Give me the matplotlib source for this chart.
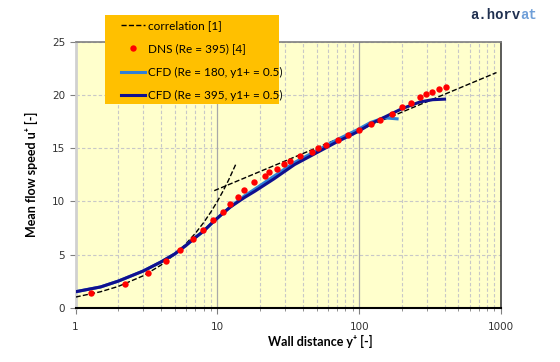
import matplotlib
matplotlib.use('Agg')
import matplotlib.pyplot as plt
from matplotlib.patches import Rectangle
from matplotlib.ticker import LogLocator, NullFormatter, FixedLocator

# correlation [1]: viscous sublayer and log law
yp_visc = [1, 1.5, 2, 3, 4, 5, 6, 7, 8, 9, 10, 11, 12, 13.5]
up_visc = [1, 1.5, 2, 3, 4, 5, 6, 7, 8, 9, 10, 11, 12, 13.5]
yp_log = [9.5, 930]
up_log = [11.0, 22.1]

# DNS (Re = 395) [4]
yp_dns = [1.28, 2.23, 3.25, 4.36, 5.44, 6.75, 7.94, 9.34, 11.0, 12.3, 13.9, 15.5,
          18.2, 21.6, 23.3, 26.3, 29.3, 32.6, 38.0, 46.4, 51.4, 58.2, 70.4, 83.2,
          99.0, 121.6, 140.7, 170, 199, 231.6, 269, 297, 327, 363, 411]
up_dns = [1.35, 2.23, 3.29, 4.39, 5.42, 6.43, 7.27, 8.21, 8.99, 9.75, 10.38, 11.06,
          11.81, 12.38, 12.75, 13.03, 13.48, 13.82, 14.26, 14.63, 15.04, 15.32, 15.79, 16.23,
          16.70, 17.26, 17.67, 18.2, 18.86, 19.24, 19.77, 20.08, 20.24, 20.58, 20.77]

# CFD (Re = 180, y1+ = 0.5)
yp_180 = [1, 1.5, 2, 3, 4, 5, 6, 7, 8, 9.3, 11, 12.3, 15.5, 18.4, 25, 35, 55, 70, 98, 120, 150, 185]
up_180 = [1.5, 1.95, 2.5, 3.45, 4.3, 5.05, 5.85, 6.6, 7.2, 8.05, 8.9, 9.45, 10.5, 11.15,
          12.35, 13.65, 15.05, 15.8, 16.75, 17.4, 17.85, 17.75]

# CFD (Re = 395, y1+ = 0.5)
yp_395 = [1, 1.5, 2, 3, 4, 5, 6, 7, 8, 9.3, 11, 12.3, 15.5, 18.4, 25, 35, 55, 70, 98, 120,
          140, 200, 270, 330, 400]
up_395 = [1.5, 1.95, 2.5, 3.45, 4.3, 5.05, 5.85, 6.6, 7.2, 8.05, 8.9, 9.45, 10.35, 10.95,
          12.1, 13.45, 14.85, 15.6, 16.55, 17.25, 17.7, 18.7, 19.35, 19.55, 19.6]

navy = '#10108f'
lblue = '#2f7fd8'

fig = plt.figure(figsize=(5.6, 3.62), dpi=100)
ax = fig.add_axes([0.135, 0.15, 0.7596, 0.7348])
ax.set_facecolor('#ffffcc')

ax.plot(yp_visc, up_visc, '--', color='black', lw=1.0, zorder=3, label='correlation [1]')
ax.plot(yp_log, up_log, '--', color='black', lw=1.0, zorder=3)
ax.plot(yp_dns, up_dns, 'o', color='#ff0000', ms=4.6, mec='none', zorder=5,
        label='DNS (Re = 395) [4]')
ax.plot(yp_180, up_180, '-', color=lblue, lw=2.2, zorder=3.5, label='CFD (Re = 180, y1+ = 0.5)')
ax.plot(yp_395, up_395, '-', color=navy, lw=2.2, zorder=4, label='CFD (Re = 395, y1+ = 0.5)')

ax.set_xscale('log')
ax.set_xlim(1, 1000)
ax.set_ylim(0, 25)
ax.set_yticks([0, 5, 10, 15, 20, 25])
ax.xaxis.set_major_locator(FixedLocator([1, 10, 100, 1000]))
ax.set_xticklabels(['1', '10', '100', '1000'])
ax.xaxis.set_minor_locator(LogLocator(base=10, subs=range(2, 10)))
ax.xaxis.set_minor_formatter(NullFormatter())
ax.tick_params(axis='both', labelsize=7.5, colors='#333333', direction='out')
ax.tick_params(axis='both', which='major', length=4, color='#808080')
ax.tick_params(axis='x', which='minor', length=2.5, color='#808080')
ax.tick_params(axis='x', pad=6)

# grid
ax.grid(True, axis='y', which='major', ls=(0, (3, 2)), color='#c8c8c8', lw=0.8, zorder=1)
ax.grid(True, axis='x', which='minor', ls=(0, (3, 2)), color='#c8c8c8', lw=0.8, zorder=1)
for xv in [10, 100]:
    ax.axvline(xv, color='#a8a8a8', lw=0.9, zorder=1)
ax.set_axisbelow(True)

ax.spines['bottom'].set_color('black')
ax.spines['bottom'].set_linewidth(1.5)
ax.spines['top'].set_color('#7f7f7f')
ax.spines['top'].set_linewidth(1.2)
ax.spines['right'].set_color('#404040')
ax.spines['right'].set_linewidth(1.2)
ax.spines['left'].set_color('#d0d0d0')
ax.spines['left'].set_linewidth(2)

lab_font = ['Lato', 'DejaVu Sans']
fig.text(31/560, 0.5175, 'Mean flow speed u⁺ [-]', rotation=90, ha='center', va='center',
         fontsize=9, fontweight='bold', family=lab_font)
fig.text(320/560, 1 - 341/362, 'Wall distance y⁺ [-]', ha='center', va='center',
         fontsize=9, fontweight='bold', family=lab_font)

# a.horvat signature, two colours
t1 = fig.text(470/560, 1 - 15/362, 'a.horv', ha='left', va='center', fontsize=10,
              fontweight='bold', family='Liberation Mono', color='#1f2f4f')
ax.annotate('at', xy=(1, 0.5), xycoords=t1, ha='left', va='center', fontsize=10,
            fontweight='bold', family='Liberation Mono', color='#6f9fd8',
            annotation_clip=False)

# legend box
box = Rectangle((105/560, 1 - 104/362), 174/560, 89/362, transform=fig.transFigure,
                facecolor='#ffc000', edgecolor='none', zorder=4)
fig.patches.append(box)
h, l = ax.get_legend_handles_labels()
leg = fig.legend(h, l, loc='upper left', bbox_to_anchor=(121/560, 1 - 20/362),
                 frameon=False, handlelength=2.0, handletextpad=0.3,
                 labelspacing=1.05, borderpad=0, borderaxespad=0,
                 prop={'family': lab_font, 'size': 8.5})
leg.set_zorder(6)

fig.savefig('out.png', dpi=100)
